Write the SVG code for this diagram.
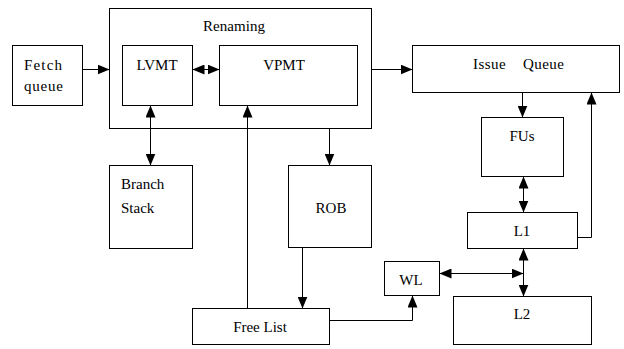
<svg xmlns="http://www.w3.org/2000/svg" width="624" height="349" viewBox="0 0 624 349">
  <style>
    .box { fill: #fff; stroke: #000; stroke-width: 1; }
    .frame { fill: none; stroke: #000; stroke-width: 1; }
    .mid { text-anchor: middle; }
    .wire { fill: none; stroke: #000; stroke-width: 1; }
  </style>
  <defs>
    <marker id="head" viewBox="0 0 12 10" refX="12" refY="5" markerWidth="12" markerHeight="10" markerUnits="userSpaceOnUse" orient="auto-start-reverse">
      <path d="M0,0 L12,5 L0,10 Z" fill="#000"/>
    </marker>
  </defs>
  <rect width="624" height="349" fill="#fff"/>

  <g font-family="Liberation Serif, Times New Roman, DejaVu Serif, serif" font-size="15" fill="#000">
    <g id="fetch-queue">
      <rect class="box" x="12.5" y="45.5" width="70" height="60"/>
      <text x="24" y="70" textLength="38">Fetch</text>
      <text x="24" y="91" textLength="39">queue</text>
    </g>

    <g id="renaming">
      <rect class="frame" x="109.5" y="8.5" width="262" height="120"/>
      <text x="203" y="31" textLength="62">Renaming</text>
    </g>

    <g id="lvmt">
      <rect class="box" x="122.5" y="45.5" width="70" height="60"/>
      <text class="mid" x="157" y="70">LVMT</text>
    </g>

    <g id="vpmt">
      <rect class="box" x="219.5" y="45.5" width="138" height="60"/>
      <text class="mid" x="284" y="70">VPMT</text>
    </g>

    <g id="issue-queue">
      <rect class="box" x="412.5" y="45.5" width="207" height="47"/>
      <text x="473" y="69" textLength="91" xml:space="preserve">Issue    Queue</text>
    </g>

    <g id="fus">
      <rect class="box" x="481.5" y="117.5" width="82" height="59"/>
      <text class="mid" x="522" y="141">FUs</text>
    </g>

    <g id="l1">
      <rect class="box" x="467.5" y="212.5" width="110" height="36"/>
      <text class="mid" x="522" y="236">L1</text>
    </g>

    <g id="l2">
      <rect class="box" x="453.5" y="296.5" width="138" height="48"/>
      <text class="mid" x="522" y="319">L2</text>
    </g>

    <g id="branch-stack">
      <rect class="box" x="109.5" y="165.5" width="83" height="83"/>
      <text x="121" y="189">Branch</text>
      <text x="121" y="213">Stack</text>
    </g>

    <g id="rob">
      <rect class="box" x="288.5" y="165.5" width="83" height="82"/>
      <text class="mid" x="331" y="213">ROB</text>
    </g>

    <g id="wl">
      <rect class="box" x="384.5" y="261.5" width="55" height="34"/>
      <text class="mid" x="411" y="285">WL</text>
    </g>

    <g id="free-list">
      <rect class="box" x="192.5" y="308.5" width="137" height="36"/>
      <text class="mid" x="260" y="332">Free List</text>
    </g>
  </g>

  <g id="connectors">
    <!-- Fetch queue to Renaming -->
    <path class="wire" d="M82.5,69.5 H109.5" marker-end="url(#head)"/>
    <!-- LVMT <-> VPMT -->
    <path class="wire" d="M192.5,69.5 H219.5" marker-start="url(#head)" marker-end="url(#head)"/>
    <!-- Renaming to Issue Queue -->
    <path class="wire" d="M371.5,69.5 H412.5" marker-end="url(#head)"/>
    <!-- LVMT <-> Branch Stack -->
    <path class="wire" d="M150.5,105.5 V165.5" marker-start="url(#head)" marker-end="url(#head)"/>
    <!-- Renaming to ROB -->
    <path class="wire" d="M329.5,128.5 V165.5" marker-end="url(#head)"/>
    <!-- Free List to VPMT -->
    <path class="wire" d="M247.5,308.5 V105.5" marker-end="url(#head)"/>
    <!-- ROB to Free List -->
    <path class="wire" d="M302.5,247.5 V308.5" marker-end="url(#head)"/>
    <!-- Free List to WL -->
    <path class="wire" d="M329.5,320.5 H412.5 V295.5" marker-end="url(#head)"/>
    <!-- Issue Queue to FUs -->
    <path class="wire" d="M522.5,92.5 V117.5" marker-end="url(#head)"/>
    <!-- FUs <-> L1 -->
    <path class="wire" d="M523.5,176.5 V212.5" marker-start="url(#head)" marker-end="url(#head)"/>
    <!-- L1 back to Issue Queue -->
    <path class="wire" d="M577.5,237.5 H591.5 V92.5" marker-end="url(#head)"/>
    <!-- L1 <-> L2 -->
    <path class="wire" d="M523.5,248.5 V296.5" marker-start="url(#head)" marker-end="url(#head)"/>
    <!-- WL <-> L1/L2 link -->
    <path class="wire" d="M439.5,273.5 H523.5" marker-start="url(#head)" marker-end="url(#head)"/>
  </g>
</svg>
